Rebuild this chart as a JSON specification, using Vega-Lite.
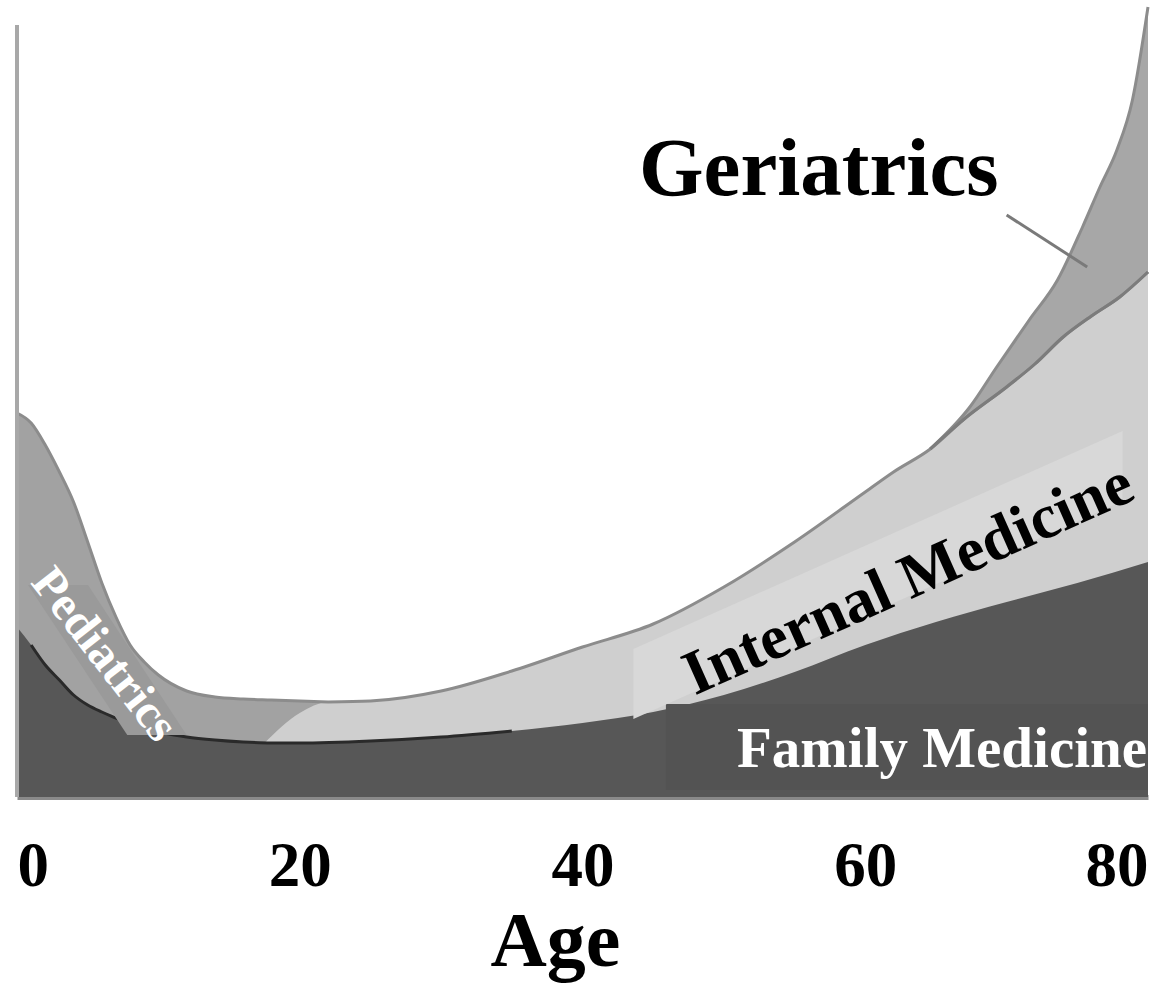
{
  "$schema": "https://vega.github.io/schema/vega-lite/v6.json",
  "width": 1131,
  "height": 797,
  "autosize": "none",
  "padding": {"left": 17, "top": 0, "right": 10, "bottom": 192},
  "background": "white",
  "config": {
    "view": {"stroke": null},
    "axisX": {
      "grid": false, "ticks": false, "tickSize": 0, "domain": true,
      "domainColor": "#8a8a8a", "domainWidth": 5,
      "labelFont": "Liberation Serif", "labelFontWeight": "bold", "labelFontSize": 63,
      "labelColor": "#000000", "labelPadding": 88, "labelBaseline": "alphabetic",
      "labelFlush": true, "labelOverlap": false, "tickCount": 5,
      "titleFont": "Liberation Serif", "titleFontWeight": "bold", "titleFontSize": 78,
      "titleColor": "#000000", "titleX": 538, "titleY": 168,
      "titleBaseline": "alphabetic", "titleAlign": "center"
    }
  },
  "datasets": {
    "fm": [
      {"age": 0, "top": 170}, {"age": 1, "top": 152}, {"age": 2, "top": 132}, {"age": 3, "top": 117},
      {"age": 4, "top": 102}, {"age": 5, "top": 92}, {"age": 6, "top": 85}, {"age": 7, "top": 79},
      {"age": 8, "top": 73}, {"age": 9, "top": 68}, {"age": 10, "top": 65}, {"age": 12, "top": 60},
      {"age": 14, "top": 57}, {"age": 16, "top": 55}, {"age": 18, "top": 54}, {"age": 20, "top": 54},
      {"age": 25, "top": 56}, {"age": 30, "top": 60}, {"age": 35, "top": 66}, {"age": 40, "top": 74},
      {"age": 45, "top": 85}, {"age": 50, "top": 102}, {"age": 55, "top": 125}, {"age": 60, "top": 152},
      {"age": 65, "top": 175}, {"age": 70, "top": 195}, {"age": 75, "top": 214}, {"age": 80, "top": 235}
    ],
    "ped": [
      {"age": 0, "top": 384}, {"age": 1, "top": 374}, {"age": 2, "top": 352}, {"age": 3, "top": 325},
      {"age": 4, "top": 295}, {"age": 5, "top": 255}, {"age": 6, "top": 214}, {"age": 7, "top": 180},
      {"age": 8, "top": 152}, {"age": 9, "top": 135}, {"age": 10, "top": 122}, {"age": 12, "top": 106},
      {"age": 14, "top": 100}, {"age": 16, "top": 98}, {"age": 18, "top": 97}, {"age": 20, "top": 96},
      {"age": 22, "top": 95}
    ],
    "im": [
      {"age": 17.5, "top": 54}, {"age": 20, "top": 84}, {"age": 22, "top": 95}, {"age": 25, "top": 96},
      {"age": 30, "top": 106}, {"age": 35, "top": 126}, {"age": 40, "top": 150}, {"age": 45, "top": 173},
      {"age": 50, "top": 210}, {"age": 55, "top": 255}, {"age": 60, "top": 305}, {"age": 62, "top": 325},
      {"age": 64.6, "top": 348}, {"age": 67, "top": 378}, {"age": 70, "top": 410}, {"age": 72, "top": 433},
      {"age": 74, "top": 460}, {"age": 76, "top": 481}, {"age": 78, "top": 500}, {"age": 80, "top": 525}
    ],
    "ger": [
      {"age": 64.6, "top": 348}, {"age": 67.4, "top": 390}, {"age": 69.3, "top": 430}, {"age": 71.6, "top": 477},
      {"age": 73.6, "top": 517}, {"age": 75.4, "top": 571}, {"age": 76.6, "top": 610}, {"age": 77.8, "top": 647},
      {"age": 78.9, "top": 697}, {"age": 80, "top": 790}
    ]
  },
  "layer": [
    {
      "data": {"name": "ger"},
      "mark": {"type": "area", "color": "#a7a7a7", "interpolate": "monotone"},
      "encoding": {
        "x": {"field": "age", "type": "quantitative", "scale": {"domain": [0, 80], "nice": false, "zero": false}, "title": "Age"},
        "y": {"field": "top", "type": "quantitative", "scale": {"domain": [0, 797], "nice": false}, "axis": null}
      }
    },
    {
      "data": {"name": "ped"},
      "mark": {"type": "area", "color": "#a2a2a2", "interpolate": "monotone"},
      "encoding": {
        "x": {"field": "age", "type": "quantitative", "title": "Age"},
        "y": {"field": "top", "type": "quantitative", "axis": null}
      }
    },
    {
      "data": {"name": "im"},
      "mark": {"type": "area", "color": "#cfcfcf", "interpolate": "monotone"},
      "encoding": {
        "x": {"field": "age", "type": "quantitative", "title": "Age"},
        "y": {"field": "top", "type": "quantitative", "axis": null}
      }
    },
    {
      "data": {"name": "fm"},
      "mark": {"type": "area", "color": "#575757", "interpolate": "monotone"},
      "encoding": {
        "x": {"field": "age", "type": "quantitative", "title": "Age"},
        "y": {"field": "top", "type": "quantitative", "axis": null}
      }
    },
    {
      "data": {"name": "fm"},
      "transform": [{"filter": "datum.age >= 0.5 && datum.age <= 35"}],
      "mark": {"type": "line", "color": "#2a2a2a", "strokeWidth": 3, "interpolate": "monotone"},
      "encoding": {
        "x": {"field": "age", "type": "quantitative", "title": "Age"},
        "y": {"field": "top", "type": "quantitative", "axis": null}
      }
    },
    {
      "data": {"name": "ped"},
      "mark": {"type": "line", "color": "#8c8c8c", "strokeWidth": 3, "interpolate": "monotone"},
      "encoding": {
        "x": {"field": "age", "type": "quantitative", "title": "Age"},
        "y": {"field": "top", "type": "quantitative", "axis": null}
      }
    },
    {
      "data": {"name": "im"},
      "transform": [{"filter": "datum.age >= 22"}],
      "mark": {"type": "line", "color": "#8c8c8c", "strokeWidth": 3, "interpolate": "monotone"},
      "encoding": {
        "x": {"field": "age", "type": "quantitative", "title": "Age"},
        "y": {"field": "top", "type": "quantitative", "axis": null}
      }
    },
    {
      "data": {"name": "ger"},
      "mark": {"type": "line", "color": "#8c8c8c", "strokeWidth": 3, "interpolate": "monotone"},
      "encoding": {
        "x": {"field": "age", "type": "quantitative", "title": "Age"},
        "y": {"field": "top", "type": "quantitative", "axis": null}
      }
    },
    {
      "data": {"name": "im"},
      "transform": [{"filter": "datum.age >= 64.6"}],
      "mark": {"type": "line", "color": "#7c7c7c", "strokeWidth": 3, "interpolate": "monotone"},
      "encoding": {
        "x": {"field": "age", "type": "quantitative", "title": "Age"},
        "y": {"field": "top", "type": "quantitative", "axis": null}
      }
    },
    {
      "data": {"values": [{"part": "left edge"}]},
      "mark": {"type": "rule", "color": "#a8a8a8", "strokeWidth": 4},
      "encoding": {
        "x": {"datum": 0, "title": "Age"},
        "y": {"datum": 0, "axis": null},
        "y2": {"datum": 772}
      }
    },
    {
      "data": {"values": [{"part": "pointer"}]},
      "mark": {"type": "rule", "color": "#7a7a7a", "strokeWidth": 3},
      "encoding": {
        "x": {"datum": 70.0, "title": "Age"},
        "y": {"datum": 582, "axis": null},
        "x2": {"datum": 75.7},
        "y2": {"datum": 530}
      }
    },
    {
      "data": {"values": [{"part": "family box"}]},
      "mark": {"type": "rect", "color": "#535353"},
      "encoding": {
        "x": {"datum": 45.9, "title": "Age"},
        "x2": {"datum": 80},
        "y": {"datum": 7, "axis": null},
        "y2": {"datum": 93}
      }
    },
    {
      "data": {"values": [{"age": 43.6, "lo": 78, "hi": 148}, {"age": 78.2, "lo": 296, "hi": 366}]},
      "mark": {"type": "area", "color": "#d8d8d8"},
      "encoding": {
        "x": {"field": "age", "type": "quantitative", "title": "Age"},
        "y": {"field": "lo", "type": "quantitative", "axis": null},
        "y2": {"field": "hi"}
      }
    },
    {
      "data": {"values": [{"v": 212, "xa": 0.78, "xb": 5.02}, {"v": 62, "xa": 7.8, "xb": 12.0}]},
      "mark": {"type": "area", "orient": "horizontal", "color": "#9a9a9a"},
      "encoding": {
        "y": {"field": "v", "type": "quantitative", "axis": null},
        "x": {"field": "xa", "type": "quantitative", "title": "Age"},
        "x2": {"field": "xb"}
      }
    },
    {
      "data": {"values": [{"label": "Geriatrics"}]},
      "mark": {"type": "text", "font": "Liberation Serif", "fontWeight": "bold", "fontSize": 83, "align": "left", "baseline": "alphabetic", "color": "#000000"},
      "encoding": {
        "x": {"datum": 44.0, "title": "Age"},
        "y": {"datum": 602, "axis": null},
        "text": {"field": "label"}
      }
    },
    {
      "data": {"values": [{"label": "Internal Medicine"}]},
      "mark": {"type": "text", "font": "Liberation Serif", "fontWeight": "bold", "fontSize": 63, "align": "center", "baseline": "alphabetic", "angle": 336, "color": "#000000"},
      "encoding": {
        "x": {"datum": 63.6, "title": "Age"},
        "y": {"datum": 200, "axis": null},
        "text": {"field": "label"}
      }
    },
    {
      "data": {"values": [{"label": "Pediatrics"}]},
      "mark": {"type": "text", "font": "Liberation Serif", "fontWeight": "bold", "fontSize": 48, "align": "center", "baseline": "middle", "angle": 52, "color": "#ffffff"},
      "encoding": {
        "x": {"datum": 6.15, "title": "Age"},
        "y": {"datum": 142, "axis": null},
        "text": {"field": "label"}
      }
    },
    {
      "data": {"values": [{"label": "Family Medicine"}]},
      "mark": {"type": "text", "font": "Liberation Serif", "fontWeight": "bold", "fontSize": 57, "align": "left", "baseline": "alphabetic", "color": "#ffffff", "clip": true},
      "encoding": {
        "x": {"datum": 50.93, "title": "Age"},
        "y": {"datum": 30, "axis": null},
        "text": {"field": "label"}
      }
    }
  ]
}
